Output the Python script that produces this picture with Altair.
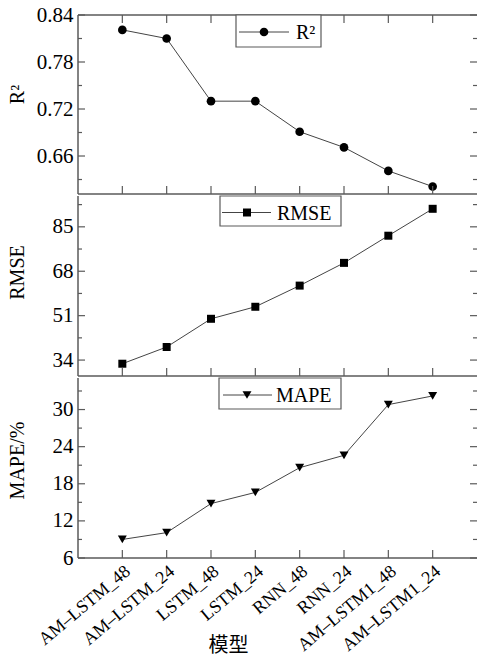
import altair as alt
import pandas as pd

models = ["AM–LSTM_48", "AM–LSTM_24", "LSTM_48", "LSTM_24", "RNN_48", "RNN_24", "AM–LSTM1_48", "AM–LSTM1_24"]
r2 = [0.821, 0.810, 0.730, 0.730, 0.691, 0.671, 0.641, 0.621]
rmse = [32.6, 39.0, 49.8, 54.4, 62.5, 71.2, 81.6, 91.9]
mape = [9.0, 10.1, 14.8, 16.6, 20.6, 22.6, 30.8, 32.2]

r2_major = [0.66, 0.72, 0.78, 0.84]
r2_minor = [0.63, 0.69, 0.75, 0.81]
rmse_major = [34, 51, 68, 85]
rmse_minor = [42.5, 59.5, 76.5, 93.5]
mape_major = [6, 12, 18, 24, 30]
mape_minor = [9, 15, 21, 27, 33]

df = pd.DataFrame({"model": models, "r2": r2, "rmse": rmse, "mape": mape})

W = 399
SERIF = "Liberation Serif"
LINE = "#444444"
FRAME = "#5a5a5a"
one = pd.DataFrame({"a": [0]})


def panel(field, H, domain, major, minor, fmt, title, titleY, shape, size, legend_text,
          leg_box, leg_line, leg_mark, leg_text_x, leg_y, top_ticks, bottom_axis):
    yscale = alt.Scale(domain=domain, nice=False, zero=False)
    xscale = alt.Scale(padding=1)
    if bottom_axis:
        xaxis = alt.Axis(labelAngle=-40, labelFont=SERIF, labelFontSize=18, labelColor="black",
                         ticks=False, domain=False, labelPadding=4,
                         title="模型", titleFont="Noto Sans CJK SC", titleFontSize=20,
                         titleFontWeight="normal", titleColor="black",
                         titleX=150, titleY=97, titleBaseline="bottom", titleAnchor="start", titleAlign="center")
    else:
        xaxis = None
    yaxis = alt.Axis(values=major, format=fmt, ticks=False, domain=False, grid=False,
                     labelFont=SERIF, labelFontSize=21, labelColor="black", labelPadding=5,
                     title=title, titleFont=SERIF, titleFontSize=20, titleFontWeight="normal",
                     titleColor="black", titleX=-61, titleY=titleY, titleAngle=-90,
                     titleAlign="center", titleBaseline="middle")
    X = alt.X("model:N", sort=models, scale=xscale, axis=xaxis)
    Y = alt.Y(f"{field}:Q", scale=yscale, axis=yaxis)

    base = alt.Chart(df)
    line = base.mark_line(color=LINE, strokeWidth=1).encode(x=X, y=Y)
    pts = base.mark_point(shape=shape, size=size, filled=True, color="black", opacity=1).encode(x=X, y=Y)

    # inward x ticks
    xt_bottom = base.mark_rule(color=FRAME, strokeWidth=1.2).encode(
        x=alt.X("model:N", sort=models), y=alt.value(H - 8), y2=alt.value(H))
    layers = [line, pts, xt_bottom]
    if top_ticks:
        xt_top = base.mark_rule(color=FRAME, strokeWidth=1.2).encode(
            x=alt.X("model:N", sort=models), y=alt.value(0), y2=alt.value(8))
        layers.append(xt_top)

    maj = pd.DataFrame({"v": major})
    mnr = pd.DataFrame({"v": minor})
    for d, L in ((maj, 7), (mnr, 4)):
        layers.append(alt.Chart(d).mark_rule(color=FRAME, strokeWidth=1.2).encode(
            y=alt.Y("v:Q"), x=alt.value(0), x2=alt.value(L)))
        layers.append(alt.Chart(d).mark_rule(color=FRAME, strokeWidth=1.2).encode(
            y=alt.Y("v:Q"), x=alt.value(W - L), x2=alt.value(W)))

    # frame (no right side)
    o = alt.Chart(one)
    layers.append(o.mark_rule(color=FRAME, strokeWidth=1.5).encode(
        x=alt.value(0), y=alt.value(0), y2=alt.value(H)))
    layers.append(o.mark_rule(color=FRAME, strokeWidth=1.5).encode(
        x=alt.value(0), x2=alt.value(W), y=alt.value(H)))
    if top_ticks:
        layers.append(o.mark_rule(color=FRAME, strokeWidth=1.5).encode(
            x=alt.value(0), x2=alt.value(W), y=alt.value(0)))

    # legend
    bx0, bx1, by0, by1 = leg_box
    layers.append(o.mark_rect(fill="white", stroke=FRAME, strokeWidth=1.2).encode(
        x=alt.value(bx0), x2=alt.value(bx1), y=alt.value(by0), y2=alt.value(by1)))
    layers.append(o.mark_rule(color=LINE, strokeWidth=1).encode(
        x=alt.value(leg_line[0]), x2=alt.value(leg_line[1]), y=alt.value(leg_y)))
    layers.append(o.mark_point(shape=shape, size=size, filled=True, color="black", opacity=1).encode(
        x=alt.value(leg_mark), y=alt.value(leg_y)))
    layers.append(o.mark_text(text=legend_text, font=SERIF, fontSize=20, align="left",
                              baseline="middle", color="black").encode(
        x=alt.value(leg_text_x), y=alt.value(leg_y + 1)))

    return alt.layer(*layers).properties(width=W, height=H)


p1 = panel("r2", 179, [0.6115, 0.84], r2_major, r2_minor, ".2f", "R²", 79,
           "circle", 75, "R²", (158, 243, 0, 32), (161, 211), 186, 218, 17, True, False)
p2 = panel("rmse", 180, [27.9, 96.8], rmse_major, rmse_minor, "d", "RMSE", 76,
           "square", 64, "RMSE", (142, 263, 0, 30), (144, 193), 169, 199, 16.5, False, False)
p3 = panel("mape", 180, [6, 35.1], mape_major, mape_minor, "d", "MAPE/%", 82,
           "triangle-down", 80, "MAPE", (141, 263, 0, 31), (145, 194), 169, 198, 17, False, True)

chart = alt.vconcat(p1, p2, p3, spacing=0).properties(
    padding={"left": 7, "top": 4, "right": 0, "bottom": 0}
).configure_view(stroke=None).configure_concat(spacing=0)

chart.save("out.html", embed_options={"renderer": "svg", "actions": False})
